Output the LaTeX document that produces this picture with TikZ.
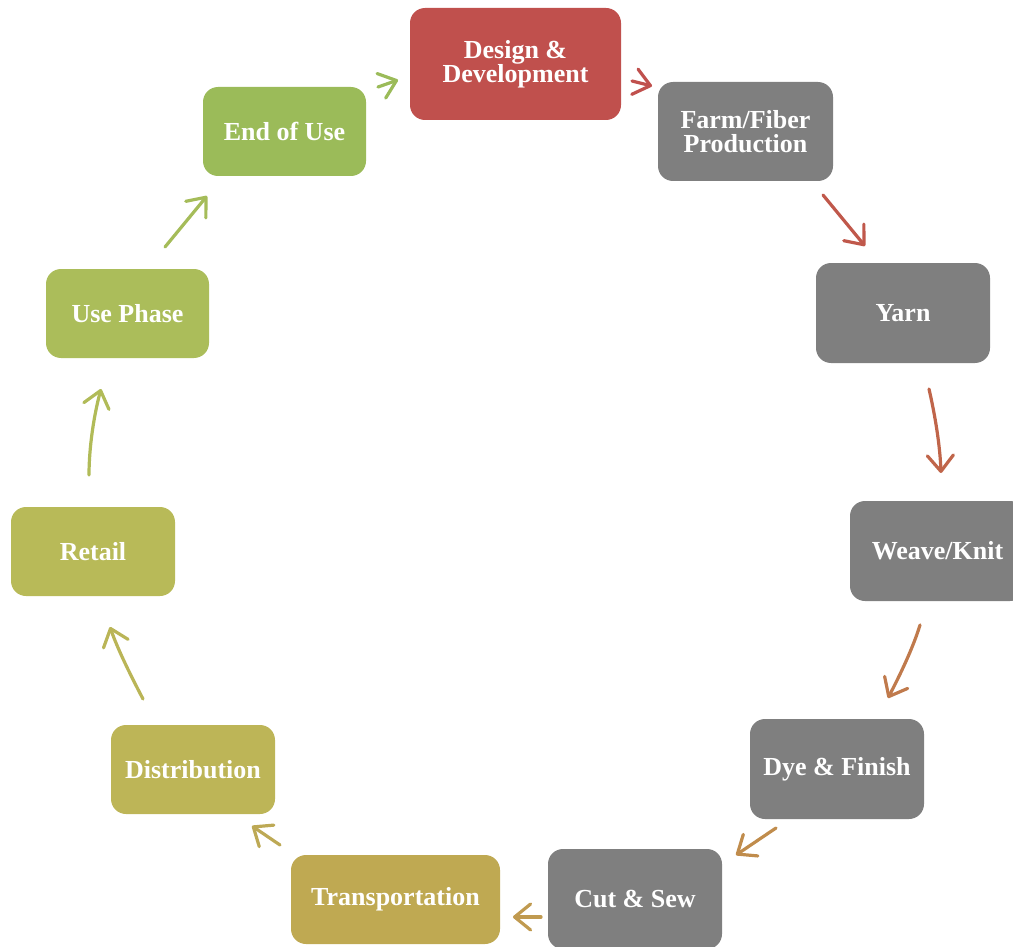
\documentclass[tikz,border=0pt]{standalone}
\usepackage{fontspec}
\setmainfont{Liberation Serif}
\usetikzlibrary{arrows.meta,calc}

\definecolor{ddred}{HTML}{C0504D}
\definecolor{stepgray}{HTML}{7F7F7F}
\definecolor{cEnd}{HTML}{9BBB59}
\definecolor{cUse}{HTML}{ABBD5A}
\definecolor{cRetail}{HTML}{B8BA58}
\definecolor{cDist}{HTML}{BDB557}
\definecolor{cTrans}{HTML}{BFA952}
\definecolor{a1}{HTML}{C0504D}
\definecolor{a2}{HTML}{C0584B}
\definecolor{a3}{HTML}{C0654A}
\definecolor{a4}{HTML}{C07A4C}
\definecolor{a5}{HTML}{C08C4C}
\definecolor{a6}{HTML}{C09A50}
\definecolor{a7}{HTML}{BDA955}
\definecolor{a8}{HTML}{BAB557}
\definecolor{a9}{HTML}{B1BB58}
\definecolor{a10}{HTML}{A5BC59}
\definecolor{a11}{HTML}{9BBB59}

\tikzset{
  stage/.style={rounded corners=15pt, inner sep=0pt, align=center,
    text=white, font=\bfseries\fontsize{26}{24}\selectfont},
  arr/.style={line width=3.2pt, line cap=round,
    -{Straight Barb[length=16pt,width=26pt,line width=3.2pt,round]}}
}

\begin{document}
\begin{tikzpicture}[x={(1pt,0)}, y={(0,-1pt)}]
\useasboundingbox (0,0) rectangle (1013,947);
\clip (0,0) rectangle (1013,947);

% process stages
\node[stage, fill=ddred, minimum width=211pt, minimum height=112pt] (dd) at (515.5,64) {Design \&\\Development};
\node[stage, fill=stepgray, minimum width=175pt, minimum height=99pt] (farm) at (745.5,131.5) {Farm/Fiber\\Production};
\node[stage, fill=stepgray, minimum width=174pt, minimum height=100pt] (yarn) at (903,313) {Yarn};
\node[stage, fill=stepgray, minimum width=175pt, minimum height=100pt] (weave) at (937.5,551) {Weave/Knit};
\node[stage, fill=stepgray, minimum width=174pt, minimum height=100pt] (dye) at (837,769) {Dye \& Finish};
\node[stage, fill=stepgray, minimum width=174pt, minimum height=100pt] (cut) at (635,899) {Cut \& Sew};
\node[stage, fill=cTrans, minimum width=209pt, minimum height=89pt] (trans) at (395.5,899.5) {Transportation};
\node[stage, fill=cDist, minimum width=164pt, minimum height=89pt] (dist) at (193,769.5) {Distribution};
\node[stage, fill=cRetail, minimum width=164pt, minimum height=89pt] (retail) at (93,551.5) {Retail};
\node[stage, fill=cUse, minimum width=163pt, minimum height=89pt] (use) at (127.5,313.5) {Use Phase};
\node[stage, fill=cEnd, minimum width=163pt, minimum height=89pt] (eou) at (284.5,131.5) {End of Use};

% arrow end points between neighbouring stages
\coordinate (s1) at (632,81);   \coordinate (e1) at (652,86);
\coordinate (s2) at (823,195);  \coordinate (e2) at (865,246);
\coordinate (s3) at (929,389);  \coordinate (e3) at (941,473);
\coordinate (s4) at (920,625);  \coordinate (e4) at (888,698);
\coordinate (s5) at (776,828);  \coordinate (e5) at (736,855);
\coordinate (s6) at (541,917);  \coordinate (e6) at (513,917);
\coordinate (s7) at (280,845);  \coordinate (e7) at (252,826);
\coordinate (s8) at (143,699);  \coordinate (e8) at (110,627);
\coordinate (s9) at (89,475);   \coordinate (e9) at (101,389);
\coordinate (s10) at (165,247); \coordinate (e10) at (207,196);
\coordinate (s11) at (378,87);  \coordinate (e11) at (398,80);

% cycle arrows
\draw[arr, a1] (s1) -- (e1);
\draw[arr, a2] (s2) -- (e2);
\draw[arr, a3] (s3) .. controls (935,415) and (940,445) .. (e3);
\draw[arr, a4] (s4) .. controls (913,648) and (900,675) .. (e4);
\draw[arr, a5] (s5) -- (e5);
\draw[arr, a6] (s6) -- (e6);
\draw[arr, a7] (s7) -- (e7);
\draw[arr, a8] (s8) .. controls (131,676) and (118,650) .. (e8);
\draw[arr, a9] (s9) .. controls (89,447) and (94,415) .. (e9);
\draw[arr, a10] (s10) -- (e10);
\draw[arr, a11] (s11) -- (e11);
\end{tikzpicture}
\end{document}
